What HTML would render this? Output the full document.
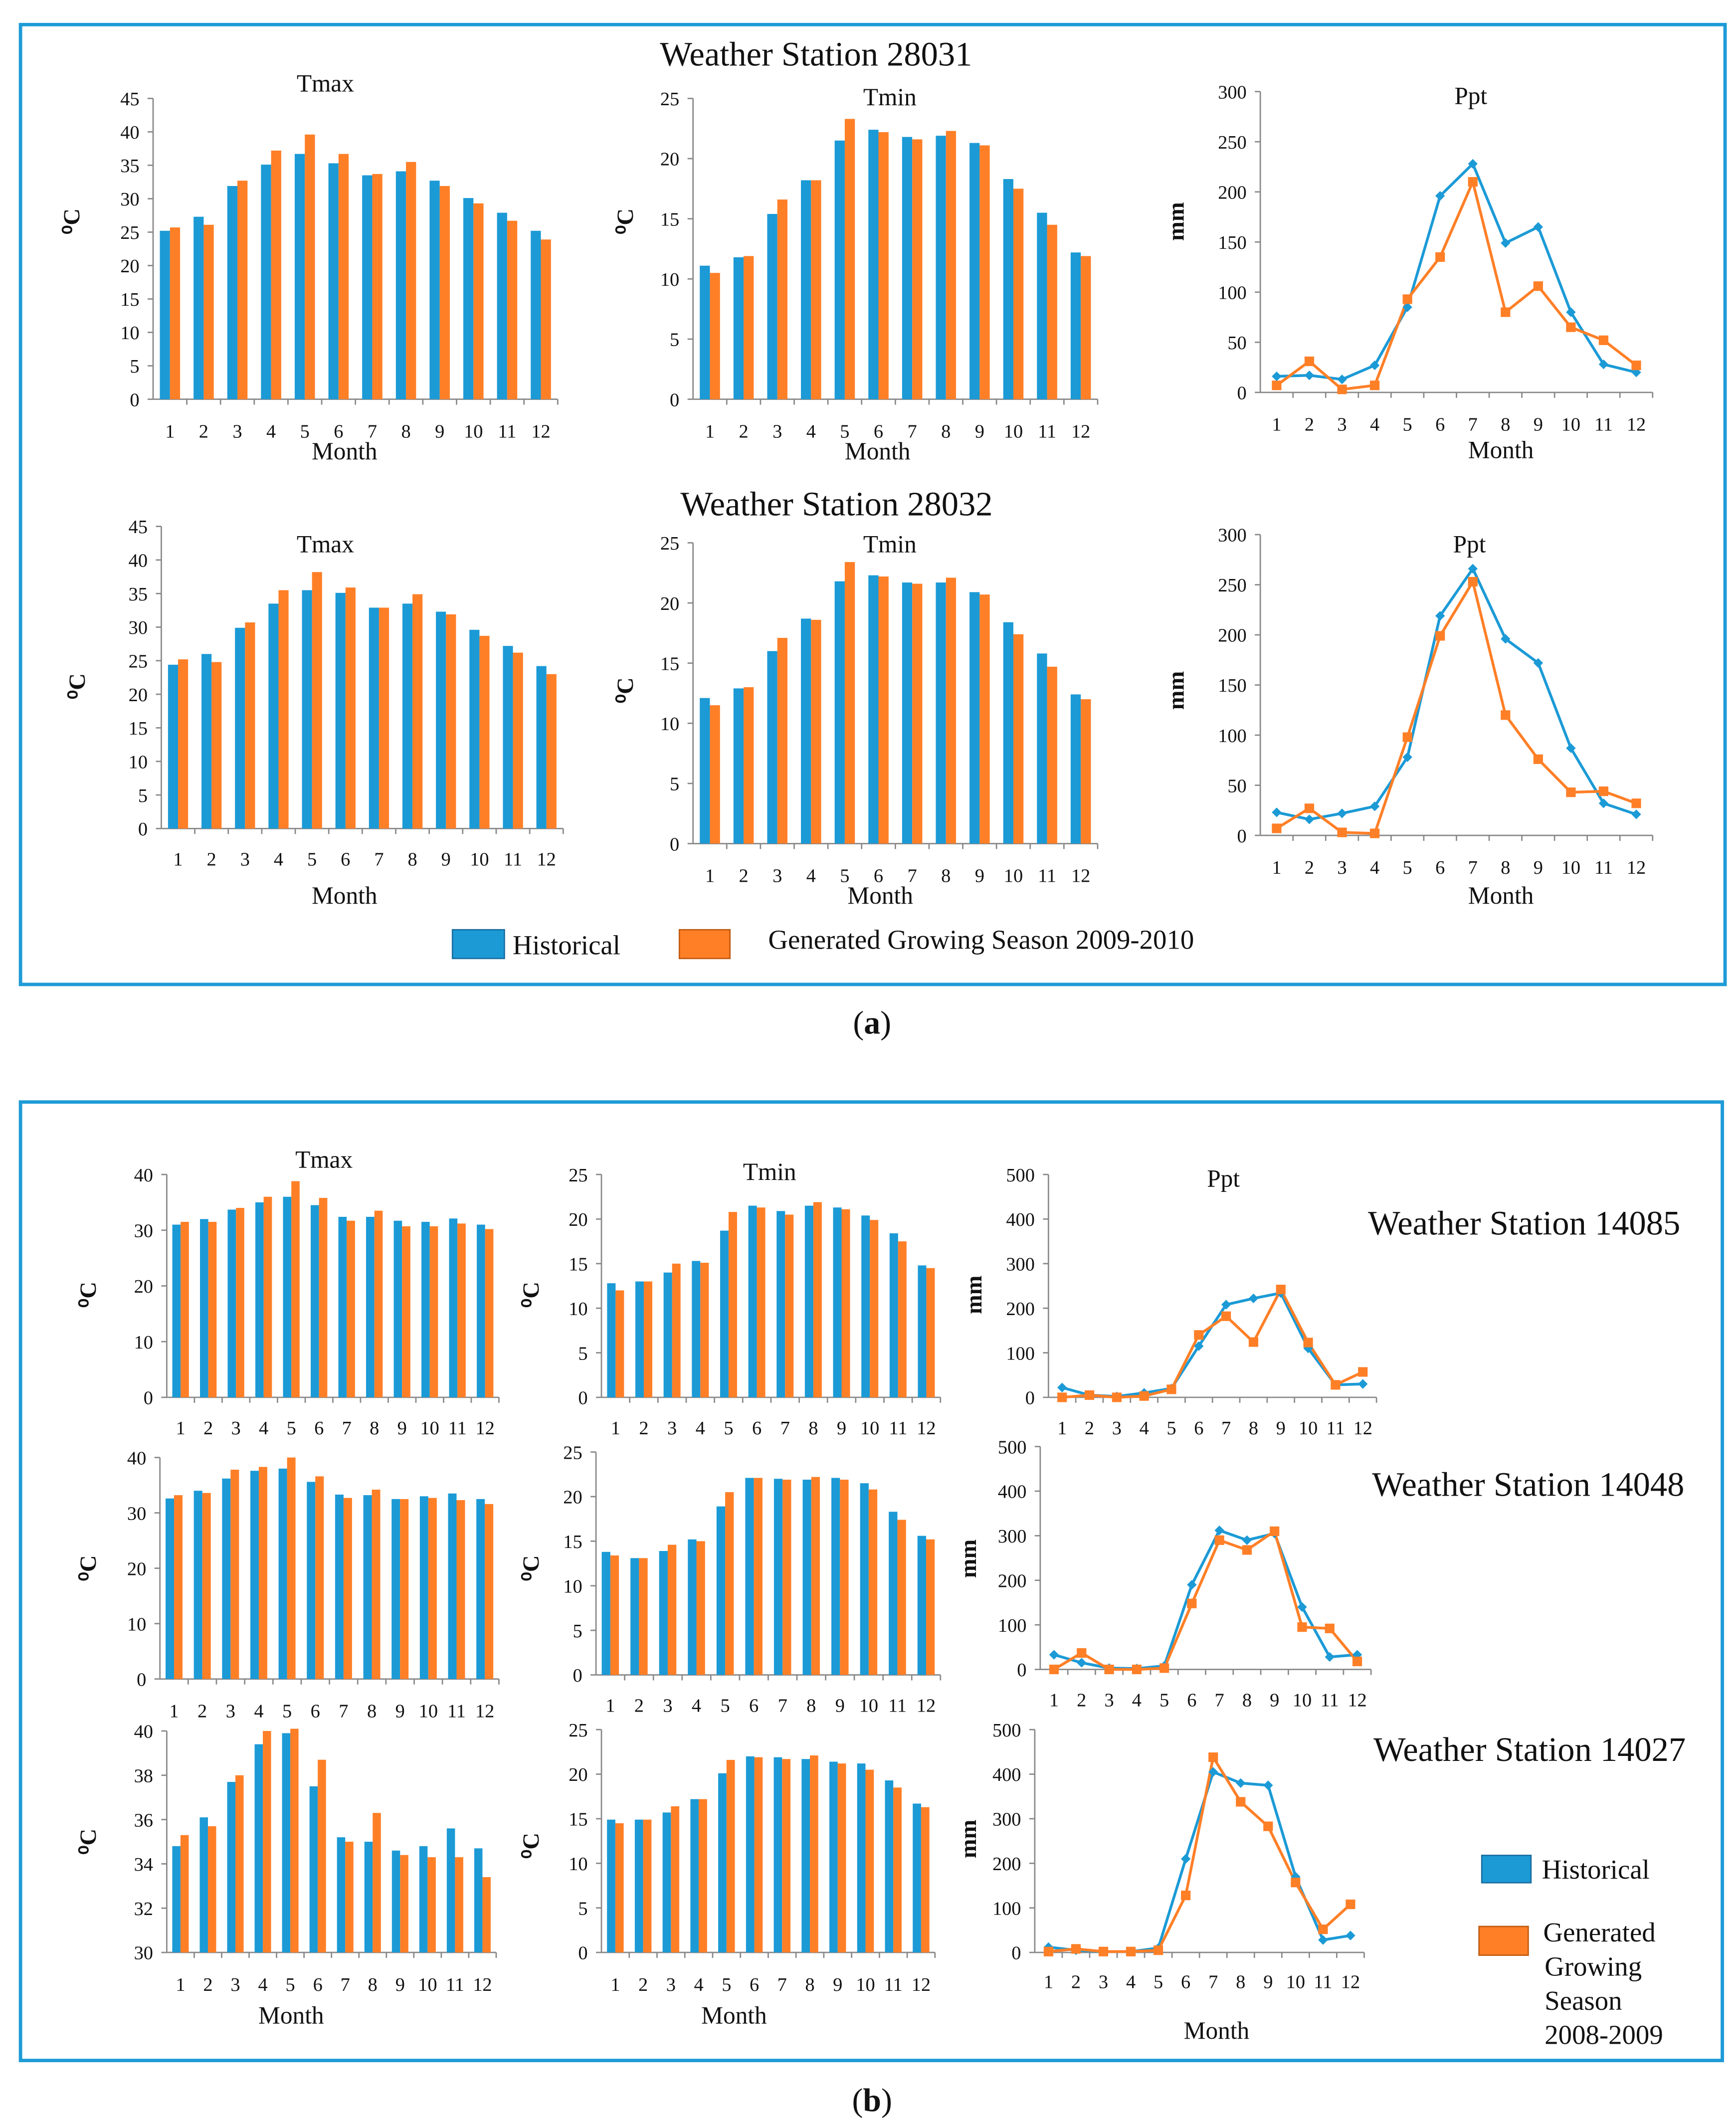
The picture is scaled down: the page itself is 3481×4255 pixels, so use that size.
<!DOCTYPE html>
<html><head><meta charset="utf-8"><style>
html,body{margin:0;padding:0;background:#fff}
svg{display:block}
text{font-family:"Liberation Serif",serif;fill:#111}
</style></head><body>
<svg id="fig" xmlns="http://www.w3.org/2000/svg" width="3481" height="4255" viewBox="0 0 1270 1552" preserveAspectRatio="none">
<rect x="15" y="18" width="1247" height="702" fill="none" stroke="#1e9bd7" stroke-width="2.5"/>
<rect x="15" y="806" width="1245" height="701" fill="none" stroke="#1e9bd7" stroke-width="2.5"/>
<text x="597" y="48" font-size="25" text-anchor="middle">Weather Station 28031</text>
<text x="612" y="377" font-size="25" text-anchor="middle">Weather Station 28032</text>
<text x="1115" y="903" font-size="25" text-anchor="middle">Weather Station 14085</text>
<text x="1118" y="1094" font-size="25" text-anchor="middle">Weather Station 14048</text>
<text x="1119" y="1288" font-size="25" text-anchor="middle">Weather Station 14027</text>
<g>
<rect x="331" y="680" width="38" height="21" fill="#1b9ad6" stroke="#1b6fa0"/>
<text x="375" y="698" font-size="20">Historical</text>
<rect x="497" y="680" width="37" height="21" fill="#ff7f27" stroke="#c05a10"/>
<text x="562" y="694" font-size="20">Generated  Growing Season 2009-2010</text>
</g>
<g>
<rect x="1084" y="1357" width="36" height="20" fill="#1b9ad6" stroke="#1b6fa0"/>
<text x="1128" y="1374" font-size="20">Historical</text>
<rect x="1082" y="1409" width="36" height="21" fill="#ff7f27" stroke="#c05a10"/>
<text font-size="20"><tspan x="1129" y="1420">Generated</tspan><tspan x="1130" y="1445">Growing</tspan><tspan x="1130" y="1470">Season</tspan><tspan x="1130" y="1495">2008-2009</tspan></text>
</g>
<text x="638" y="756" font-size="24" text-anchor="middle">(<tspan font-weight="bold">a</tspan>)</text>
<text x="638" y="1544" font-size="24" text-anchor="middle">(<tspan font-weight="bold">b</tspan>)</text>
</svg>
<script>
const months = [1,2,3,4,5,6,7,8,9,10,11,12];
const a1Hist = [25.2,27.3,31.9,35.1,36.7,35.3,33.5,34.1,32.7,30.1,27.9,25.2];
const a1Gen  = [25.7,26.1,32.7,37.2,39.6,36.7,33.7,35.5,31.9,29.3,26.7,23.9];
const a2Hist = [11.1,11.8,15.4,18.2,21.5,22.4,21.8,21.9,21.3,18.3,15.5,12.2];
const a2Gen  = [10.5,11.9,16.6,18.2,23.3,22.2,21.6,22.3,21.1,17.5,14.5,11.9];
const a3Hist = [16,17,13,27,85,196,228,149,165,80,28,20];
const a3Gen  = [7,31,3,7,93,135,210,80,106,65,52,27];
const b1Hist = [24.4,26.0,29.9,33.5,35.5,35.1,32.9,33.5,32.3,29.6,27.2,24.2];
const b1Gen  = [25.2,24.8,30.7,35.5,38.2,35.9,32.9,34.9,31.9,28.7,26.2,23.0];
const b2Hist = [12.1,12.9,16.0,18.7,21.8,22.3,21.7,21.7,20.9,18.4,15.8,12.4];
const b2Gen  = [11.5,13.0,17.1,18.6,23.4,22.2,21.6,22.1,20.7,17.4,14.7,12.0];
const b3Hist = [23,16,22,29,78,219,266,196,172,87,32,21];
const b3Gen  = [7,27,3,2,98,199,253,120,76,43,44,32];
const c1Hist = [31,32,33.7,35,36,34.5,32.4,32.4,31.7,31.5,32.1,31];
const c1Gen  = [31.5,31.5,34,36,38.8,35.8,31.7,33.5,30.7,30.7,31.2,30.2];
const c2Hist = [12.8,13,14,15.3,18.7,21.5,20.9,21.5,21.3,20.4,18.4,14.8];
const c2Gen  = [12,13,15,15.1,20.8,21.3,20.5,21.9,21.1,19.9,17.5,14.5];
const c3Hist = [22,5,2,10,20,115,208,222,234,110,28,30];
const c3Gen  = [0,5,0,3,18,140,182,124,242,123,28,57];
const d1Hist = [32.6,34,36.2,37.6,38,35.6,33.3,33.2,32.5,33,33.5,32.5];
const d1Gen  = [33.2,33.6,37.8,38.3,40,36.6,32.7,34.2,32.5,32.7,32.3,31.6];
const d2Hist = [13.8,13.1,13.9,15.2,18.9,22.1,22,21.9,22.1,21.5,18.3,15.6];
const d2Gen  = [13.4,13.1,14.6,15,20.5,22.1,21.9,22.2,21.9,20.8,17.4,15.2];
const d3Hist = [33,15,3,2,8,190,312,290,305,140,28,33];
const d3Gen  = [0,37,0,0,3,148,290,268,310,95,92,18];
const e1Hist = [34.8,36.1,37.7,39.4,39.9,37.5,35.2,35,34.6,34.8,35.6,34.7];
const e1Gen  = [35.3,35.7,38,40,40.1,38.7,35,36.3,34.4,34.3,34.3,33.4];
const e2Hist = [14.9,14.9,15.7,17.2,20.1,22,21.9,21.7,21.4,21.2,19.3,16.7];
const e2Gen  = [14.5,14.9,16.4,17.2,21.6,21.9,21.7,22.1,21.2,20.5,18.5,16.3];
const e3Hist = [12,5,2,2,10,210,405,380,375,170,28,38];
const e3Gen  = [2,8,2,2,5,128,438,338,283,157,52,108];

const NS = "http://www.w3.org/2000/svg";
const svg = document.getElementById('fig');
function mk(tag, attrs, parent){
  const e = document.createElementNS(NS, tag);
  for (const k in attrs) e.setAttribute(k, attrs[k]);
  (parent||svg).appendChild(e);
  return e;
}
const BLUE="#1b9ad6", ORANGE="#ff7f27";

function chart(id, c, hist, gen){
  const g = mk('g', {});
  
  
  const y = v => c.yb - (v - c.min) / (c.max - c.min) * (c.yb - c.yt);
  const w = (c.x1 - c.x0) / months.length;
  const xc = i => c.x0 + (i + 0.5) * w;
  // y axis
  const ya = mk('line', {x1:c.x0, y1:c.yt, x2:c.x0, y2:c.yb, stroke:'#888', 'stroke-width':1}, g);
  
  
  for (let v = c.min; v <= c.max + 1e-9; v += c.step){
    mk('line', {x1:c.x0-4, y1:y(v), x2:c.x0, y2:y(v), stroke:'#888'}, g);
    const t = mk('text', {x:c.x0-10, y:y(v)+5, 'font-size':14, 'text-anchor':'end'}, g);
    t.textContent = v;
    
    
  }
  const xa = mk('line', {x1:c.x0, y1:c.yb, x2:c.x1, y2:c.yb, stroke:'#888', 'stroke-width':1}, g);
  
  
  months.forEach((m, i) => {
    mk('line', {x1:c.x0+(i+1)*w, y1:c.yb, x2:c.x0+(i+1)*w, y2:c.yb+4, stroke:'#888'}, g);
    const t = mk('text', {x:xc(i), y:c.ly, 'font-size':14, 'text-anchor':'middle'}, g);
    t.textContent = m;
    
    
  });
  if (c.title){
    const t = mk('text', {x:c.tx, y:c.ty, 'font-size':18, 'text-anchor':'middle'}, g);
    t.textContent = c.title;
    
    
  }
  if (c.mx){
    const t = mk('text', {x:c.mx, y:c.my, 'font-size':18, 'text-anchor':'middle'}, g);
    t.textContent = 'Month';
    
    
  }
  const yt = mk('text', {x:0, y:0, 'font-size':17, 'font-weight':'bold', 'text-anchor':'middle', transform:`translate(${c.yx},${c.yy}) rotate(-90)`}, g);
  yt.textContent = c.line ? 'mm' : '\u2070C';
  
  

  if (!c.line){
    const bw = w * 0.3;
    months.forEach((m, i) => {
      const b1 = mk('rect', {x:xc(i)-bw, y:y(hist[i]), width:bw, height:c.yb-y(hist[i]), fill:BLUE}, g);
      
      
      const b2 = mk('rect', {x:xc(i), y:y(gen[i]), width:bw, height:c.yb-y(gen[i]), fill:ORANGE}, g);
      
      
    });
  } else {
    const ph = mk('polyline', {points:hist.map((v,i)=>xc(i)+','+y(v)).join(' '), fill:'none', stroke:BLUE, 'stroke-width':2}, g);
    
    
    const pg = mk('polyline', {points:gen.map((v,i)=>xc(i)+','+y(v)).join(' '), fill:'none', stroke:ORANGE, 'stroke-width':2}, g);
    
    
    hist.forEach((v,i)=>{
      const d = mk('rect', {x:xc(i)-2.5, y:y(v)-2.5, width:5, height:5, fill:BLUE, transform:`rotate(45 ${xc(i)} ${y(v)})`}, g);
      
      
    });
    gen.forEach((v,i)=>{
      const s = mk('rect', {x:xc(i)-3.5, y:y(v)-3.5, width:7, height:7, fill:ORANGE}, g);
      
      
    });
  }
}

chart('a-tmax', {x0:112,x1:408,yt:72,yb:292,min:0,max:45,step:5,ly:320,title:'Tmax',tx:238,ty:67,mx:252,my:336,yx:58,yy:162}, a1Hist, a1Gen);
chart('a-tmin', {x0:507,x1:803,yt:72,yb:292,min:0,max:25,step:5,ly:320,title:'Tmin',tx:651,ty:77,mx:642,my:336,yx:463,yy:162}, a2Hist, a2Gen);
chart('a-ppt', {x0:922,x1:1209,yt:67,yb:287,min:0,max:300,step:50,ly:315,title:'Ppt',tx:1076,ty:76,mx:1098,my:335,yx:866,yy:162,line:true}, a3Hist, a3Gen);
chart('b-tmax', {x0:118,x1:412,yt:385,yb:606,min:0,max:45,step:5,ly:633,title:'Tmax',tx:238,ty:404,mx:252,my:661,yx:62,yy:502}, b1Hist, b1Gen);
chart('b-tmin', {x0:507,x1:803,yt:397,yb:617,min:0,max:25,step:5,ly:645,title:'Tmin',tx:651,ty:404,mx:644,my:661,yx:463,yy:505}, b2Hist, b2Gen);
chart('b-ppt', {x0:922,x1:1209,yt:391,yb:611,min:0,max:300,step:50,ly:639,title:'Ppt',tx:1075,ty:404,mx:1098,my:661,yx:866,yy:505,line:true}, b3Hist, b3Gen);
chart('c-tmax', {x0:122,x1:365,yt:859,yb:1022,min:0,max:40,step:10,ly:1049,title:'Tmax',tx:237,ty:854,yx:70,yy:947}, c1Hist, c1Gen);
chart('c-tmin', {x0:440,x1:688,yt:859,yb:1022,min:0,max:25,step:5,ly:1049,title:'Tmin',tx:563,ty:863,yx:394,yy:947}, c2Hist, c2Gen);
chart('c-ppt', {x0:767,x1:1007,yt:859,yb:1022,min:0,max:500,step:100,ly:1049,title:'Ppt',tx:895,ty:868,yx:718,yy:947,line:true}, c3Hist, c3Gen);
chart('d-tmax', {x0:117,x1:365,yt:1066,yb:1228,min:0,max:40,step:10,ly:1256,yx:70,yy:1147}, d1Hist, d1Gen);
chart('d-tmin', {x0:436,x1:688,yt:1062,yb:1225,min:0,max:25,step:5,ly:1252,yx:394,yy:1147}, d2Hist, d2Gen);
chart('d-ppt', {x0:761,x1:1003,yt:1058,yb:1221,min:0,max:500,step:100,ly:1248,yx:714,yy:1140,line:true}, d3Hist, d3Gen);
chart('e-tmax', {x0:122,x1:363,yt:1266,yb:1428,min:30,max:40,step:2,ly:1456,mx:213,my:1480,yx:70,yy:1347}, e1Hist, e1Gen);
chart('e-tmin', {x0:440,x1:684,yt:1265,yb:1428,min:0,max:25,step:5,ly:1456,mx:537,my:1480,yx:394,yy:1350}, e2Hist, e2Gen);
chart('e-ppt', {x0:757,x1:998,yt:1265,yb:1428,min:0,max:500,step:100,ly:1454,mx:890,my:1491,yx:714,yy:1345,line:true}, e3Hist, e3Gen);
</script>
</body></html>
